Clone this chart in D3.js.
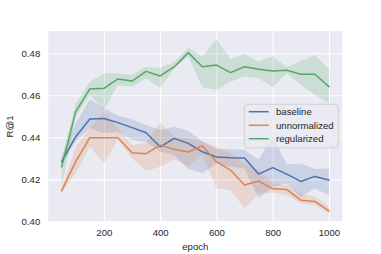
<!DOCTYPE html>
<html><head><meta charset="utf-8">
<script src="https://cdn.jsdelivr.net/npm/d3@7"></script>
<style>
html,body{margin:0;padding:0;background:#fff;}
svg{display:block;font-family:"Liberation Sans",Arial,sans-serif;}
</style></head>
<body>
<script>
const epochs = [50,100,150,200,250,300,350,400,450,500,550,600,650,700,750,800,850,900,950,1000];
const baseline      = [0.4284,0.4403,0.4487,0.4490,0.4470,0.4446,0.4422,0.4355,0.4395,0.4371,0.4331,0.4306,0.4303,0.4302,0.4225,0.4256,0.4225,0.4190,0.4214,0.4197];
const baselineLo    = [0.4276,0.4379,0.4443,0.4419,0.4427,0.4387,0.4379,0.4331,0.4316,0.4250,0.4229,0.4276,0.4260,0.4252,0.4110,0.4165,0.4181,0.4117,0.4157,0.4125];
const baselineHi    = [0.4308,0.4467,0.4581,0.4538,0.4504,0.4486,0.4459,0.4435,0.4450,0.4430,0.4383,0.4345,0.4344,0.4340,0.4295,0.4403,0.4271,0.4276,0.4249,0.4252];
const unnormalized   = [0.4146,0.4284,0.4398,0.4398,0.4398,0.4327,0.4322,0.4363,0.4343,0.4330,0.4360,0.4284,0.4244,0.4173,0.4192,0.4155,0.4152,0.4101,0.4095,0.4050];
const unnormalizedLo = [0.4136,0.4229,0.4355,0.4276,0.4387,0.4300,0.4240,0.4260,0.4295,0.4262,0.4320,0.4157,0.4149,0.4062,0.4133,0.4136,0.4125,0.4086,0.4078,0.4038];
const unnormalizedHi = [0.4157,0.4355,0.4443,0.4522,0.4443,0.4363,0.4374,0.4470,0.4403,0.4395,0.4379,0.4355,0.4324,0.4276,0.4244,0.4181,0.4173,0.4133,0.4117,0.4070];
const regularized    = [0.4260,0.4522,0.4630,0.4633,0.4678,0.4668,0.4714,0.4692,0.4735,0.4803,0.4736,0.4744,0.4708,0.4736,0.4724,0.4716,0.4719,0.4700,0.4700,0.4641];
const regularizedLo  = [0.4159,0.4498,0.4601,0.4529,0.4649,0.4641,0.4681,0.4633,0.4729,0.4784,0.4638,0.4625,0.4665,0.4689,0.4681,0.4638,0.4705,0.4649,0.4601,0.4562];
const regularizedHi  = [0.4300,0.4560,0.4665,0.4705,0.4705,0.4697,0.4736,0.4730,0.4760,0.4826,0.4784,0.4868,0.4773,0.4795,0.4760,0.4787,0.4733,0.4763,0.4792,0.4724];
const seriesNames = ["baseline","unnormalized","regularized"];
const seriesColors = ["#4C72B0","#DD8452","#55A868"];
const xTicks = [200,400,600,800,1000];
const yTicks = [0.40,0.42,0.44,0.46,0.48];
const xLabel = "epoch", yLabel = "R@1";

const W = 381, H = 254;
const L = 48.3, R = 342.3, T = 31, B = 222;
const svg = d3.select("body").append("svg").attr("width", W).attr("height", H);
const x = d3.scaleLinear().domain([2.5, 1047.5]).range([L, R]);
const y = d3.scaleLinear().domain([0.3997, 0.4906]).range([B, T]);
const txt = "#262626";

svg.append("rect").attr("x", L).attr("y", T).attr("width", R - L).attr("height", B - T).attr("fill", "#EAEAF2");

// grid
const xa = svg.append("g").attr("transform", `translate(0,${B})`)
  .call(d3.axisBottom(x).tickValues(xTicks).tickFormat(d3.format("d")).tickSize(-(B - T)).tickPadding(7));
const ya = svg.append("g").attr("transform", `translate(${L},0)`)
  .call(d3.axisLeft(y).tickValues(yTicks).tickFormat(d3.format(".2f")).tickSize(-(R - L)).tickPadding(8));
[xa, ya].forEach(g => {
  g.select(".domain").remove();
  g.selectAll(".tick line").attr("stroke", "#fff").attr("stroke-width", 1.1);
  g.selectAll(".tick text").attr("fill", txt).attr("font-size", "9.6px").attr("font-family", '"Liberation Sans",Arial,sans-serif');
});
xa.selectAll(".tick text").attr("dy", "0.71em");

const data = [
  {name: seriesNames[0], v: baseline, lo: baselineLo, hi: baselineHi, c: seriesColors[0]},
  {name: seriesNames[1], v: unnormalized, lo: unnormalizedLo, hi: unnormalizedHi, c: seriesColors[1]},
  {name: seriesNames[2], v: regularized, lo: regularizedLo, hi: regularizedHi, c: seriesColors[2]},
];
const area = d3.area().x((d, i) => x(epochs[i])).y0(d => y(d[0])).y1(d => y(d[1]));
const line = d3.line().x((d, i) => x(epochs[i])).y(d => y(d));
data.forEach(s => {
  svg.append("path").datum(s.lo.map((l, i) => [l, s.hi[i]])).attr("d", area)
    .attr("fill", s.c).attr("fill-opacity", 0.2).attr("stroke", "none");
});
data.forEach(s => {
  svg.append("path").datum(s.v).attr("d", line).attr("fill", "none")
    .attr("stroke", s.c).attr("stroke-width", 1.5).attr("stroke-linejoin", "round").attr("stroke-linecap", "square");
});

// labels
svg.append("text").attr("x", (L + R) / 2).attr("y", 250).attr("text-anchor", "middle")
  .attr("fill", txt).attr("font-size", "9.6px").text(xLabel);
svg.append("text").attr("transform", `translate(13,${(T + B) / 2}) rotate(-90)`).attr("text-anchor", "middle")
  .attr("fill", txt).attr("font-size", "9.6px").text(yLabel);

// legend
const lg = svg.append("g");
lg.append("rect").attr("x", 244.3).attr("y", 104.3).attr("width", 94).attr("height", 43.5).attr("rx", 2.5)
  .attr("fill", "#EAEAF2").attr("fill-opacity", 0.8).attr("stroke", "#cccccc").attr("stroke-width", 0.8);
const lgRows = [111.7, 125.3, 138.7];
data.forEach((s, i) => {
  lg.append("line").attr("x1", 248.7).attr("x2", 268.7).attr("y1", lgRows[i]).attr("y2", lgRows[i])
    .attr("stroke", s.c).attr("stroke-width", 1.5);
  lg.append("text").attr("x", 276).attr("y", lgRows[i]).attr("dy", "0.35em")
    .attr("fill", txt).attr("font-size", "9.6px").text(s.name);
});
</script>
</body></html>
